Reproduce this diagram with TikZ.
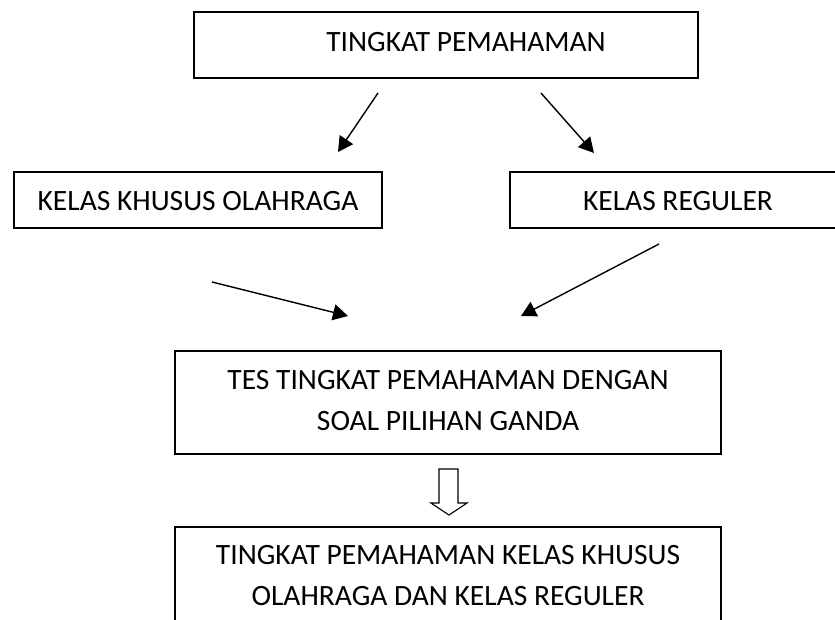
\documentclass[tikz,border=0pt]{standalone}
\usepackage{fontspec}
\setmainfont{Carlito}
\usetikzlibrary{arrows.meta}
\begin{document}
\begin{tikzpicture}[x=1pt,y=-1pt,
  boxline/.style={draw=black,line width=1.8pt},
  lbl/.style={font=\fontsize{29.5}{41}\selectfont,inner sep=0pt,align=center},
  conn/.style={line width=1.4pt,-{Triangle[length=15pt,width=16pt]}}]
\useasboundingbox (0,0) rectangle (835,619);
\clip (0,0) rectangle (835,619);
% boxes
\draw[boxline] (194,12) rectangle (698,78);
\node[lbl] (top) at (466,42) {TINGKAT PEMAHAMAN};
\draw[boxline] (14,172) rectangle (382,228);
\node[lbl] (khusus) at (198,201) {KELAS KHUSUS OLAHRAGA};
\draw[boxline] (510,172) rectangle (846,228);
\node[lbl] (reguler) at (678,201) {KELAS REGULER};
\draw[boxline] (175,351) rectangle (721,454);
\node[lbl] (tes) at (448,401) {TES TINGKAT PEMAHAMAN DENGAN\\SOAL PILIHAN GANDA};
\draw[boxline] (175,527) rectangle (721,640);
\node[lbl] (hasil) at (448,576) {TINGKAT PEMAHAMAN KELAS KHUSUS\\OLAHRAGA DAN KELAS REGULER};
% arrow end points
\coordinate (a1s) at (378,93);  \coordinate (a1e) at (338,152);
\coordinate (a2s) at (541,93);  \coordinate (a2e) at (594,153);
\coordinate (a3s) at (212,282); \coordinate (a3e) at (348,316);
\coordinate (a4s) at (659,244); \coordinate (a4e) at (521,316);
\draw[conn] (a1s) -- (a1e);
\draw[conn] (a2s) -- (a2e);
\draw[conn] (a3s) -- (a3e);
\draw[conn] (a4s) -- (a4e);
% hollow down arrow
\draw[line width=1.1pt,line join=miter] (439,469) -- (458,469) -- (458,503) -- (467,503) -- (449,515) -- (431,503) -- (439,503) -- cycle;
\end{tikzpicture}
\end{document}
